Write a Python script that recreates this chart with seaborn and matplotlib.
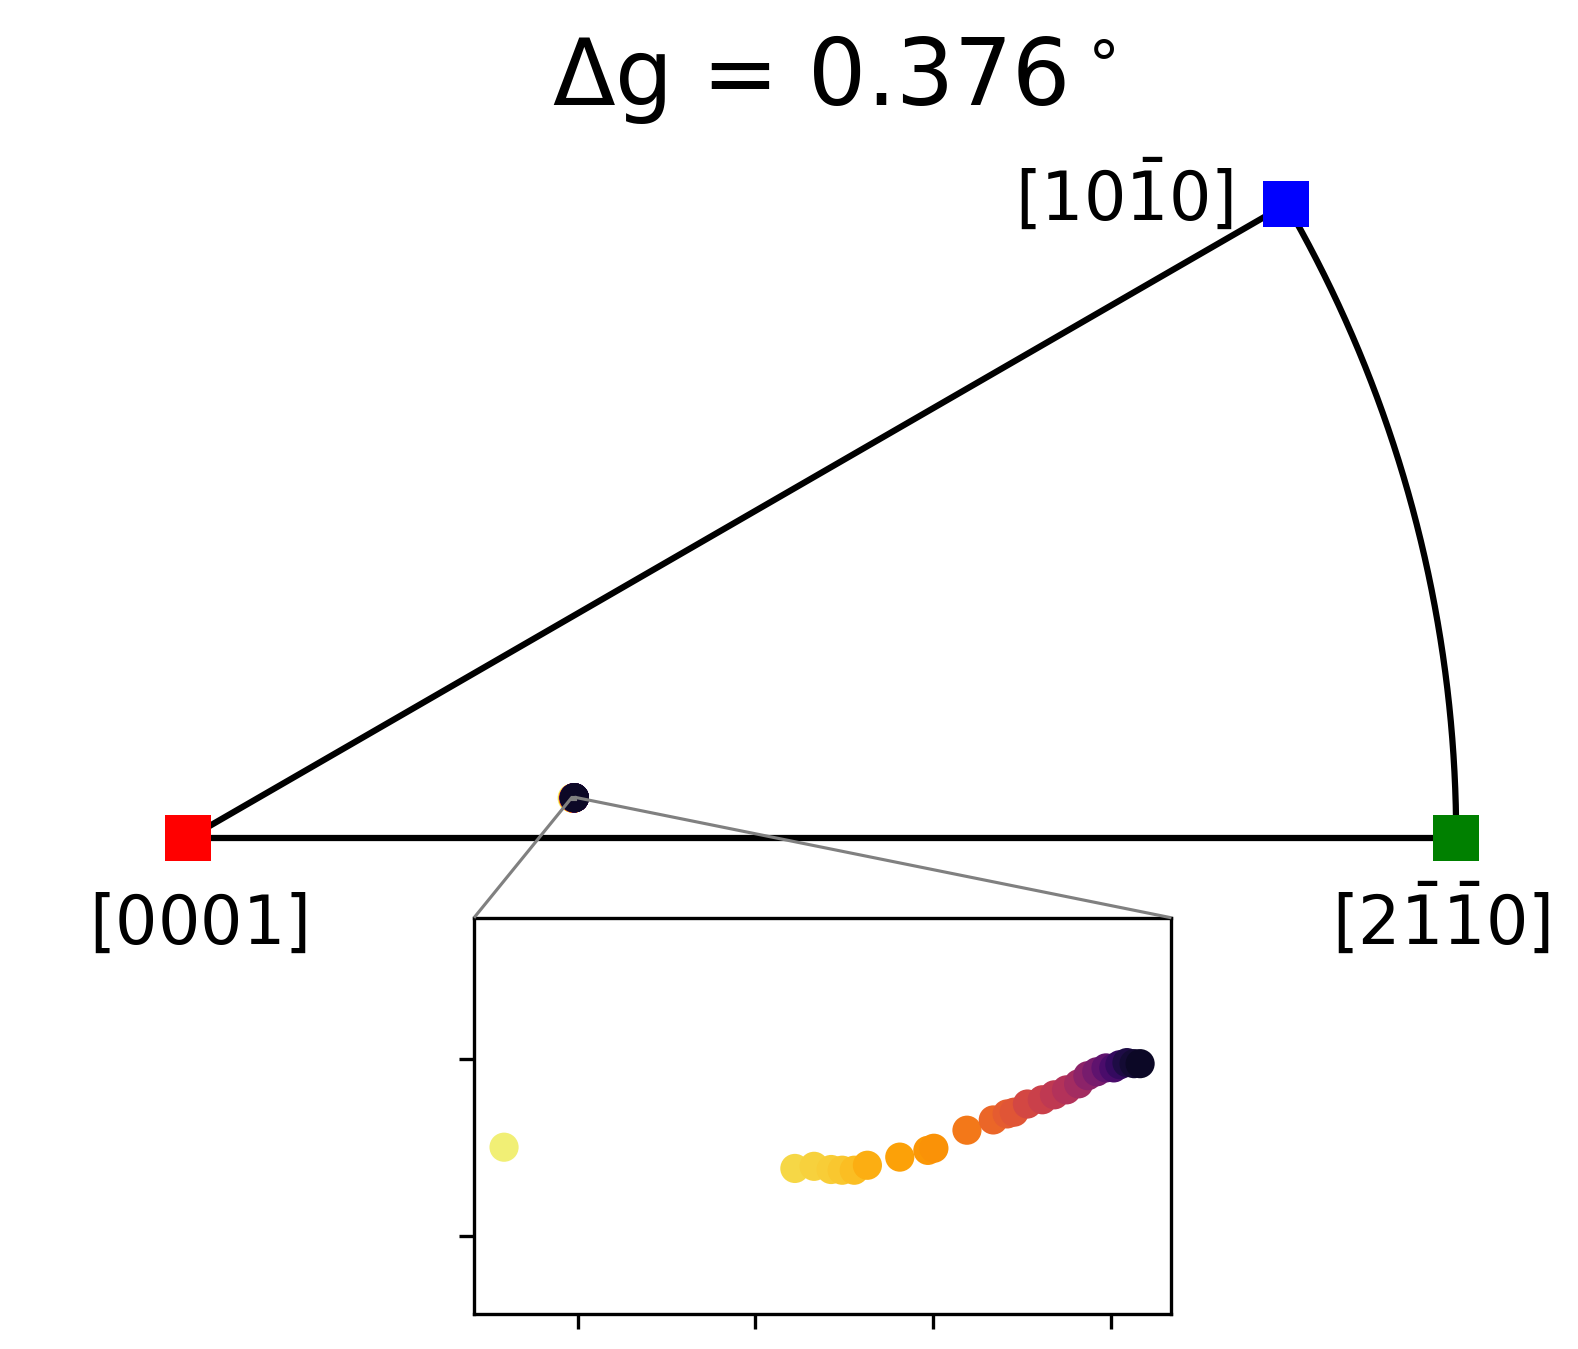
import numpy as np
import matplotlib
matplotlib.use("Agg")
import matplotlib.pyplot as plt
import seaborn as sns
from mpl_toolkits.axes_grid1.inset_locator import mark_inset

# vertices of the hexagonal standard triangle (stereographic, unit radius)
poles = ["$[0001]$", "$[2\\bar{1}\\bar{1}0]$", "$[10\\bar{1}0]$"]
pole_x = [0.0, 1.0, np.cos(np.radians(30))]
pole_y = [0.0, 0.0, np.sin(np.radians(30))]
pole_colors = ["red", "green", "blue"]

# orientation trace (projected x, y), in time order
px = [0.302793, 0.303611, 0.303665, 0.303713, 0.303744, 0.303778, 0.303815,
      0.303906, 0.303985, 0.304002, 0.304095, 0.304169, 0.304208, 0.304228,
      0.304265, 0.304307, 0.304341, 0.304375, 0.304409, 0.304435, 0.304460,
      0.304486, 0.304508, 0.304525, 0.304545, 0.304565, 0.304582]
py = [0.031750, 0.031690, 0.031696, 0.031687, 0.031685, 0.031685, 0.031699,
      0.031722, 0.031741, 0.031747, 0.031798, 0.031827, 0.031844, 0.031849,
      0.031872, 0.031884, 0.031898, 0.031912, 0.031929, 0.031952, 0.031963,
      0.031974, 0.031974, 0.031983, 0.031989, 0.031986, 0.031986]
# colour value of each point (inferno, 0..1)
cval = [0.95, 0.90, 0.89, 0.88, 0.87, 0.85, 0.82, 0.79, 0.77, 0.76, 0.70,
        0.66, 0.63, 0.61, 0.57, 0.54, 0.51, 0.48, 0.44, 0.38, 0.33, 0.27,
        0.22, 0.17, 0.12, 0.09, 0.07]
title = "Δg = 0.376$^\\circ$"

W, H = 1578, 1349
fig = plt.figure(figsize=(W / 300, H / 300), dpi=300)

# main axes fills the figure, 1 unit = 1268 px
ax = fig.add_axes([0, 0, 1, 1])
ax.set_xlim(-0.14842, 1.09606)
ax.set_ylim(-0.40276, 0.66112)
ax.axis("off")

# triangle edges
ax.plot([pole_x[0], pole_x[1]], [pole_y[0], pole_y[1]], color="black", lw=1.5, zorder=2)
ax.plot([pole_x[0], pole_x[2]], [pole_y[0], pole_y[2]], color="black", lw=1.5, zorder=2)
ang = np.linspace(0, np.radians(30), 200)
ax.plot(np.cos(ang), np.sin(ang), color="black", lw=1.5, zorder=2)

for x, y, c in zip(pole_x, pole_y, pole_colors):
    ax.plot(x, y, marker="s", ms=11, color=c, mew=0, zorder=4, clip_on=False)

ax.text(pole_x[0] + 0.008, pole_y[0] - 0.083, poles[0], fontsize=16,
        ha="center", va="baseline")
ax.text(pole_x[1] - 0.012, pole_y[1] - 0.083, poles[1], fontsize=16,
        ha="center", va="baseline")
ax.text(pole_x[2] - 0.128, pole_y[2] - 0.012, poles[2], fontsize=16,
        ha="center", va="baseline")

sns.scatterplot(x=px, y=py, hue=cval, palette="inferno", hue_norm=(0, 1),
                legend=False, s=49, linewidth=0, ax=ax, zorder=3)
ax.set_xlabel("")
ax.set_ylabel("")

fig.text(834 / W, 1 - 104.7 / H, title, fontsize=22, ha="center", va="baseline")

# zoomed inset
axins = fig.add_axes([474 / W, 1 - 1314.3 / H, 697.4 / W, 396.5 / H])
sns.scatterplot(x=px, y=py, hue=cval, palette="inferno", hue_norm=(0, 1),
                legend=False, s=49, linewidth=0, ax=axins)
axins.set_xlim(0.3027085, 0.304670)
axins.set_ylim(0.031278, 0.032398)
axins.xaxis.set_major_locator(plt.MultipleLocator(0.0005))
axins.yaxis.set_major_locator(plt.MultipleLocator(0.0005))
axins.set_xticklabels([])
axins.set_yticklabels([])
axins.set_xlabel("")
axins.set_ylabel("")
for sp in axins.spines.values():
    sp.set_color("black")
    sp.set_linewidth(0.8)

mark_inset(ax, axins, loc1=2, loc2=1, fc="none", ec="0.5", lw=0.75, zorder=5)

fig.savefig("out.png", dpi=300)
